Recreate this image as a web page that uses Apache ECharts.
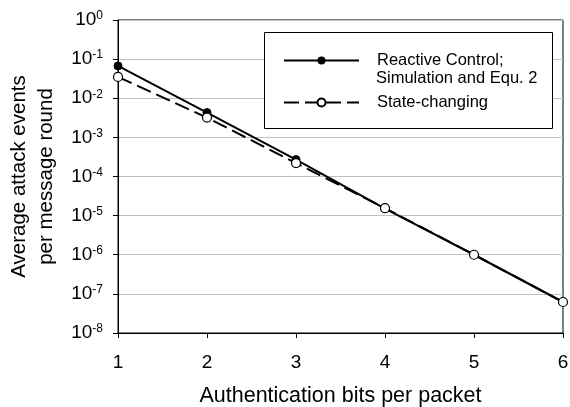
<!DOCTYPE html>
<html>
<head>
<meta charset="utf-8">
<script src="https://cdn.jsdelivr.net/npm/echarts@6/dist/echarts.min.js"></script>
<style>html,body{margin:0;padding:0;background:#fff;}#c{width:570px;height:407px;}</style>
</head>
<body>
<div id="c"></div>
<script>
var bits = [1, 2, 3, 4, 5, 6];
var reactive = [0.067, 0.0043, 2.7e-4, 1.5e-5, 1.0e-6, 6.2e-8];
var stateChanging = [0.035, 0.0032, 2.2e-4, 1.55e-5, 1.0e-6, 6.2e-8];
var seriesNames = ['Reactive Control;', 'State-changing'];
var legendExtraLine = 'Simulation and Equ. 2';
var xTitle = 'Authentication bits per packet';
var yTitle = 'Average attack events\nper message round';

var FONT = '"Liberation Sans", Arial, sans-serif';
function pairs(xs, ys) { return xs.map(function (x, i) { return [x, ys[i]]; }); }

var chart = echarts.init(document.getElementById('c'));
chart.setOption({
  animation: false,
  backgroundColor: '#fff',
  textStyle: { fontFamily: FONT },
  grid: { left: 118, right: 7, top: 20, bottom: 74, show: true, borderColor: '#000', borderWidth: 1, outerBoundsMode: 'none', containLabel: false },
  xAxis: {
    type: 'value', min: 1, max: 6, interval: 1,
    name: xTitle, nameLocation: 'middle', nameGap: 52,
    nameTextStyle: { fontSize: 21.5, color: '#000', fontFamily: FONT },
    axisLine: { lineStyle: { color: '#000', width: 1 } },
    axisTick: { show: true, length: 5, lineStyle: { color: '#000' } },
    axisLabel: { fontSize: 19, color: '#000', margin: 20, fontFamily: FONT },
    splitLine: { show: false }
  },
  yAxis: {
    type: 'log', logBase: 10, min: 1e-8, max: 1,
    name: yTitle, nameLocation: 'middle', nameGap: 53, nameRotate: 90,
    nameTextStyle: { fontSize: 20.5, color: '#000', lineHeight: 27, fontFamily: FONT },
    axisLine: { show: true, lineStyle: { color: '#000', width: 1 } },
    axisTick: { show: true, length: 5, lineStyle: { color: '#000' } },
    axisLabel: {
      margin: 15, color: '#000', fontFamily: FONT,
      formatter: function (v) {
        var e = Math.round(Math.log10(v));
        return '{b|10}{s|' + e + '}';
      },
      rich: {
        b: { fontSize: 19, color: '#000', fontFamily: FONT },
        s: { fontSize: 12, color: '#000', fontFamily: FONT, verticalAlign: 'bottom', padding: [0, 0, 8, 0] }
      }
    },
    splitLine: { show: true, lineStyle: { color: '#c0c0c0', width: 1 } }
  },
  legend: {
    orient: 'vertical', left: 283, top: 52, padding: 0,
    itemWidth: 75, itemHeight: 10, itemGap: 25,
    data: seriesNames,
    textStyle: { fontSize: 16.5, color: '#000', fontFamily: FONT, padding: [0, 0, 0, 13] }
  },
  graphic: [
    { type: 'rect', z: 1, shape: { x: 264.5, y: 32.5, width: 288, height: 96 }, style: { fill: '#fff', stroke: '#000', lineWidth: 1 } },
    { type: 'text', z: 10, left: 376, top: 70, style: { text: legendExtraLine, fontSize: 16.5, fill: '#000', fontFamily: FONT } }
  ],
  series: [
    {
      name: seriesNames[0], type: 'line', data: pairs(bits, reactive),
      symbol: 'circle', symbolSize: 8, z: 3,
      lineStyle: { color: '#000', width: 2 },
      itemStyle: { color: '#000', borderColor: '#000' }
    },
    {
      name: seriesNames[1], type: 'line', data: pairs(bits, stateChanging),
      symbol: 'circle', symbolSize: 9, z: 4,
      lineStyle: { color: '#000', width: 2, type: [15, 6] },
      itemStyle: { color: '#fff', borderColor: '#000', borderWidth: 1.2 }
    }
  ]
});
</script>
</body>
</html>
